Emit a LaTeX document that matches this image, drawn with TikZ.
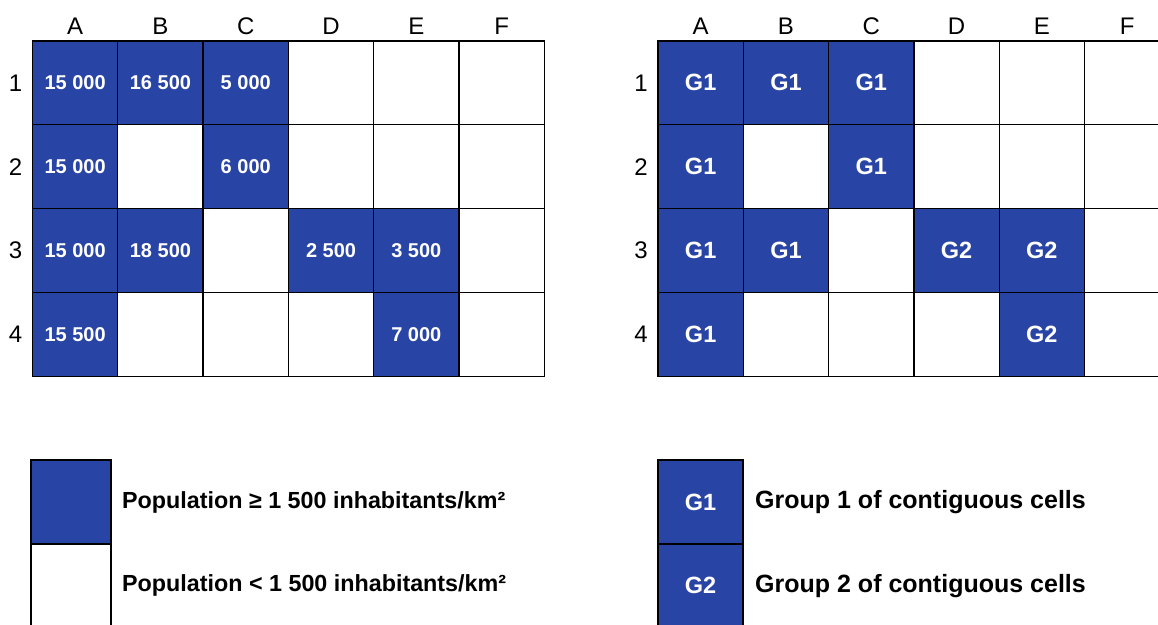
\documentclass[tikz,border=0pt]{standalone}
\usepackage{fontspec}
\setmainfont{Liberation Sans}
\usetikzlibrary{positioning}
\definecolor{denseblue}{RGB}{40,68,165}
\tikzset{
  gcell/.style ={rectangle, draw=black, line width=1.3pt, fill=white,
                 minimum width=85.3pt, minimum height=83.8pt, inner sep=0pt, outer sep=0pt},
  dcell/.style ={gcell, fill=denseblue, text=white, font=\bfseries\fontsize{20}{20}\selectfont},
  gpcell/.style={dcell, font=\bfseries\fontsize{23.5}{23.5}\selectfont},
  hdr/.style   ={font=\fontsize{24}{24}\selectfont, inner sep=0pt},
  legbox/.style={gcell, minimum width=80pt},
  legtext/.style={font=\bfseries\fontsize{24}{24}\selectfont, inner sep=0pt, anchor=west},
}

\begin{document}
\begin{tikzpicture}[x=1pt, y=-1pt]
  \useasboundingbox (0,0) rectangle (1158,624);
  % left grid: population per cell
  \foreach \r in {1,...,4}
    \foreach \c in {1,...,6}
      \node[gcell] (L-\r-\c) at ({32.5+(\c-0.5)*85.3}, {41+(\r-0.5)*83.8}) {};
  \foreach \r/\c/\v in {1/1/15 000, 1/2/16 500, 1/3/5 000, 2/1/15 000, 2/3/6 000,
                        3/1/15 000, 3/2/18 500, 3/4/2 500, 3/5/3 500, 4/1/15 500, 4/5/7 000}
    \node[dcell] (Ld-\r-\c) at (L-\r-\c) {\v};
  % right grid: groups
  \foreach \r in {1,...,4}
    \foreach \c in {1,...,6}
      \node[gcell] (R-\r-\c) at ({658+(\c-0.5)*85.3}, {41+(\r-0.5)*83.8}) {};
  \foreach \r/\c/\g in {1/1/G1, 1/2/G1, 1/3/G1, 2/1/G1, 2/3/G1, 3/1/G1, 3/2/G1,
                        3/4/G2, 3/5/G2, 4/1/G1, 4/5/G2}
    \node[gpcell] (Rd-\r-\c) at (R-\r-\c) {\g};
  % headers
  \foreach \c/\l in {1/A, 2/B, 3/C, 4/D, 5/E, 6/F} {
    \node[hdr, above=6pt of L-1-\c] (Lh-\c) {\l};
    \node[hdr, above=6pt of R-1-\c] (Rh-\c) {\l};
  }
  \foreach \r in {1,...,4} {
    \node[hdr, left=10pt of L-\r-1] (Ln-\r) {\r};
    \node[hdr, left=10pt of R-\r-1] (Rn-\r) {\r};
  }
  % legends
  \node[legbox, fill=denseblue] (legHi) at (71,502) {};
  \node[legbox, below=0pt of legHi] (legLo) {};
  \node[legtext, right=11pt of legHi, font=\bfseries\fontsize{23.3}{23.3}\selectfont] (tHi) {Population ≥ 1 500 inhabitants/km²};
  \node[legtext, right=11pt of legLo, font=\bfseries\fontsize{23.3}{23.3}\selectfont] (tLo) {Population < 1 500 inhabitants/km²};
  \node[gpcell, minimum width=85pt] (legG1) at (700.5,502) {G1};
  \node[gpcell, minimum width=85pt, below=0pt of legG1] (legG2) {G2};
  \node[legtext, right=12pt of legG1, font=\bfseries\fontsize{25}{25}\selectfont] (tG1) {Group 1 of contiguous cells};
  \node[legtext, right=12pt of legG2, font=\bfseries\fontsize{25}{25}\selectfont] (tG2) {Group 2 of contiguous cells};
\end{tikzpicture}
\end{document}
